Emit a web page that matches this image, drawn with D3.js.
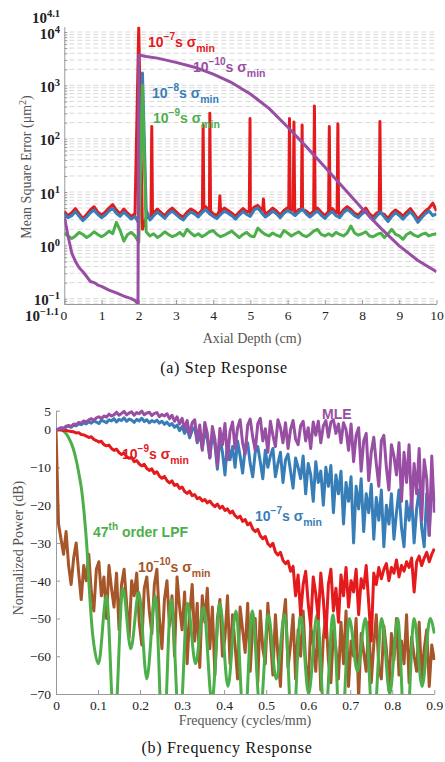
<!DOCTYPE html>
<html>
<head>
<meta charset="utf-8">
<script src="https://cdn.jsdelivr.net/npm/d3@7"></script>
<style>
  body { margin: 0; background: #fff; }
  svg { display: block; }
  .tick-label { font-family: "Liberation Serif", "Times New Roman", serif; font-size: 13.5px; fill: #222; }
  .decade-label { font-family: "Liberation Serif", "Times New Roman", serif; font-size: 15px; font-weight: bold; fill: #222; }
  .axis-title { font-family: "Liberation Serif", serif; font-size: 14px; fill: #555; }
  .caption { font-family: "Liberation Serif", serif; font-size: 16px; fill: #111; letter-spacing: 0.7px; }
  .series-label { font-family: "Liberation Sans", Arial, sans-serif; font-weight: bold; font-size: 14px; }
</style>
</head>
<body>
<div id="chart"></div>
<script>
// ---------- (a) Step response data : axial depth 0..10 cm, step 0.1 ----------
const depthGrid = d3.range(0, 101).map(i => i / 10);

// 10^-7 s sigma_min (red) - noise floor, spikes listed separately
const redMse = [
  4.3, 3.6, 4.1, 4.9, 3.9, 3.2, 3.8, 4.6, 5.3, 4.2,
  3.7, 4.2, 5.0, 5.8, 4.6, 3.9, 4.8, 4.0, 3.5, 3.9,
  12000, 2.0, 3.3, 3.4, 4.0, 4.8, 4.1, 3.6, 4.4, 5.0,
  4.3, 3.7, 3.4, 4.2, 4.8, 4.4, 3.8, 4.6, 5.3, 4.4,
  3.9, 3.6, 4.3, 5.0, 4.5, 4.0, 3.5, 4.2, 4.9, 4.3,
  3.9, 5.2, 5.6, 4.6, 3.8, 4.3, 5.0, 4.4, 3.7, 4.5,
  5.1, 4.6, 4.0, 4.7, 5.4, 4.4, 3.8, 4.4, 5.0, 4.2,
  3.6, 4.3, 4.9, 4.1, 3.7, 4.6, 5.3, 4.7, 4.0, 3.7,
  4.4, 5.0, 3.9, 3.4, 4.1, 4.8, 3.8, 3.2, 4.0, 4.6,
  4.1, 3.5, 4.2, 4.9, 3.9, 3.1, 3.7, 4.4, 5.0, 6.2,
  4.4
];
// [depth, floor, peak]
const redSpikes = [
  [2.35, 3.4, 170], [3.73, 4.4, 180], [3.91, 4.4, 300], [4.18, 4.3, 8.5],
  [4.99, 4.3, 240], [5.35, 4.6, 7.4], [6.05, 4.8, 240], [6.17, 4.6, 205],
  [6.39, 4.6, 180], [6.72, 4.4, 410], [7.12, 4.3, 170], [7.35, 4.1, 190],
  [8.48, 4.0, 210]
];

// 10^-8 s sigma_min (blue)
const blueMse = [
  3.9, 3.3, 3.6, 4.3, 3.5, 2.9, 3.4, 4.1, 4.6, 3.8,
  3.3, 3.7, 4.4, 4.9, 4.0, 3.5, 4.2, 3.6, 3.1, 3.5,
  2.6, 1700, 4.6, 3.0, 3.6, 4.2, 3.7, 3.2, 3.9, 4.4,
  3.8, 3.3, 3.0, 3.7, 4.2, 3.9, 3.4, 4.1, 4.7, 3.9,
  3.5, 3.2, 3.8, 4.4, 4.0, 3.6, 3.1, 3.7, 4.3, 3.8,
  3.5, 4.6, 5.0, 4.1, 3.4, 3.8, 4.4, 3.9, 3.3, 4.0,
  4.5, 4.1, 3.6, 4.2, 4.8, 3.9, 3.4, 3.9, 4.4, 3.7,
  3.2, 3.8, 4.3, 3.6, 3.3, 4.1, 4.7, 4.2, 3.6, 3.3,
  3.9, 4.4, 3.5, 3.0, 3.6, 4.2, 3.4, 2.8, 3.5, 4.1,
  3.6, 3.1, 3.7, 4.3, 3.5, 2.7, 3.3, 3.9, 4.4, 3.6,
  3.9
];

// 10^-9 s sigma_min (green)
const greenMse = [
  1.7, 1.5, 1.35, 1.5, 1.75, 1.6, 1.4, 1.55, 1.8, 1.6,
  1.45, 1.6, 1.85, 1.65, 2.7, 1.9, 1.2, 1.6, 1.75, 1.5,
  1.15, 1000, 1.8, 1.5, 1.65, 1.4, 1.55, 1.8, 1.6, 1.45,
  1.55, 1.75, 1.5, 2.0, 1.7, 1.5, 1.65, 1.45, 1.6, 1.8,
  1.9, 1.6, 1.45, 1.55, 1.7, 1.85, 1.6, 1.4, 1.6, 1.75,
  1.5, 1.45, 2.1, 1.8, 1.6, 1.5, 1.7, 1.55, 1.45, 1.9,
  1.7, 1.5, 1.65, 1.8, 1.55, 1.45, 1.6, 1.85, 2.0, 1.6,
  1.5, 1.65, 1.5, 1.75, 1.6, 1.5, 1.7, 2.3, 1.7, 1.55,
  1.65, 1.8, 1.5, 1.45, 1.6, 1.7, 1.4, 1.65, 2.0, 1.6,
  1.5, 1.3, 1.6, 1.75, 1.55, 1.45, 1.6, 1.7, 1.5, 1.6,
  1.65
];

// 10^-10 s sigma_min (purple)
const purpleDepth = [0, 0.1, 0.2, 0.3, 0.4, 0.5, 0.6, 0.7, 0.8, 0.9, 1.0, 1.2, 1.4, 1.6, 1.8, 1.9, 1.98,
  2.0, 2.2, 2.5, 3.0, 3.5, 4.0, 4.5, 5.0, 5.5, 6.0, 6.5, 7.0, 7.5, 8.0, 8.5, 9.0, 9.5, 10.0];
const purpleMse = [3.5, 1.5, 0.72, 0.5, 0.38, 0.32, 0.26, 0.21, 0.2, 0.18, 0.17, 0.145, 0.128, 0.112, 0.1, 0.092, 0.08,
  3700, 3470, 3240, 2700, 2190, 1620, 1120, 690, 370, 166, 71, 29.5, 12, 4.9, 2.1, 0.98, 0.52, 0.32];

// ---------- (b) Frequency response data : 0..0.9 cycles/mm, step 0.006 ----------
const freqGrid = d3.range(0, 151).map(i => i * 0.006);

const mleDb = [
  0, 0.2, 0.5, 0.4, 0.9, 1.1, 0.8, 1.5, 1.3, 1.9,
  1.7, 2.3, 2.0, 2.6, 2.9, 2.4, 3.1, 3.4, 2.9, 3.6,
  3.3, 4.1, 3.6, 3.9, 4.6, 3.8, 4.3, 4.8, 3.9, 4.4,
  4.7, 3.8, 4.5, 4.2, 4.9, 3.9, 4.4, 4.6, 3.7, 4.3,
  4.5, 3.4, 4.0, 3.6, 4.2, 2.9, 3.8, 2.2, 3.4, 1.5,
  3.0, 0.2, 2.4, -1.5, 1.8, 2.6, -3.0, 1.2, -5.5, 1.9,
  -1.0, -7.5, 0.8, -2.5, -9.5, 0.3, -4.0, 1.6, -8.0, -0.5,
  2.0, -5.0, 0.5, 2.6, -3.5, -6.5, 1.2, 2.8, -2.0, -5.5,
  1.5, 3.0, -3.0, 0.2, -6.0, 2.2, -1.5, -4.5, 2.6, 0.5,
  -3.5, 1.8, -5.0, 0.0, 2.4, -2.5, -4.0, 1.0, 2.2, -3.0,
  0.5, -5.0, 2.0, -1.5, 2.2, -3.5, 1.0, 2.4, -2.0, 2.0,
  2.6, -1.0, 1.5, -3.5, 1.8, 0.0, -5.5, 1.5, -8.5, -1.5,
  0.5, -11.0, -3.0, -1.0, -13.5, -6.0, -2.0, -9.0, -15.0, -3.0,
  -1.5, -10.0, -16.0, -4.0, -7.0, -12.0, -3.5, -19.0, -6.0, -14.0,
  -4.0, -21.0, -9.0, -17.0, -5.0, -24.0, -8.0, -13.0, -28.0, -7.0,
  -22.0
];

const sigma7Db = [
  0, 0.1, 0.4, 0.2, 0.7, 0.9, 0.6, 1.2, 1.0, 1.5,
  1.3, 1.8, 1.5, 2.1, 1.7, 2.3, 2.0, 1.6, 2.5, 2.2,
  1.8, 2.6, 2.3, 2.9, 2.0, 2.7, 2.4, 3.1, 2.2, 2.8,
  2.5, 1.9, 2.7, 2.3, 3.0, 2.1, 2.6, 1.8, 2.4, 2.0,
  2.5, 1.7, 2.2, 1.4, 2.0, 1.1, 1.6, 0.6, 1.2, -0.3,
  0.8, -1.0, 0.4, -2.2, -0.2, 0.6, -3.5, -1.0, -5.0, -0.6,
  -2.5, -7.5, -1.2, -4.0, -10.5, -2.0, -6.0, -12.0, -3.0, -8.0,
  -4.5, -10.0, -3.0, -7.0, -11.5, -5.0, -3.5, -9.0, -12.5, -6.0,
  -4.5, -8.5, -13.0, -5.5, -10.0, -7.0, -5.0, -12.5, -9.0, -6.0,
  -14.0, -8.0, -6.5, -11.0, -15.5, -7.5, -10.0, -13.0, -7.0, -17.0,
  -9.0, -12.0, -19.0, -8.5, -14.0, -11.0, -20.0, -10.0, -15.0, -9.5,
  -22.0, -12.0, -17.0, -11.0, -25.0, -14.0, -19.0, -12.5, -30.0, -15.0,
  -21.0, -13.0, -27.0, -17.0, -22.0, -14.5, -29.0, -18.0, -24.0, -16.0,
  -31.0, -20.0, -25.0, -17.0, -29.0, -22.0, -16.0, -26.0, -31.0, -19.0,
  -24.0, -18.0, -30.0, -21.0, -16.0, -26.0, -31.0, -17.0, -28.0, -14.0,
  -19.0
];

const sigma9Db = [
  0, -0.1, 0.0, -0.3, -0.2, -0.4, -0.5, -0.6, -0.9, -0.8,
  -1.3, -1.4, -1.7, -2.1, -1.9, -2.6, -2.9, -3.3, -3.1, -4.0,
  -4.3, -4.1, -5.0, -5.5, -5.2, -6.1, -6.6, -6.2, -7.2, -7.6,
  -7.4, -8.5, -8.2, -9.1, -9.6, -9.2, -10.3, -10.8, -10.4, -11.6,
  -11.2, -12.3, -12.9, -12.4, -13.5, -14.1, -13.6, -14.8, -14.5, -15.6,
  -15.2, -16.4, -16.9, -16.3, -17.5, -17.2, -18.3, -18.0, -18.9, -18.5,
  -19.4, -18.9, -19.8, -20.4, -19.7, -20.8, -20.3, -21.4, -21.0, -22.1,
  -21.6, -22.8, -23.4, -22.9, -24.3, -23.8, -25.2, -24.7, -26.3, -27.0,
  -26.4, -28.1, -28.9, -28.3, -30.2, -30.9, -30.1, -32.4, -33.2, -32.5,
  -34.6, -35.5, -34.8, -37.5, -36.2, -44.0, -38.5, -49.0, -41.0, -37.5,
  -46.0, -52.0, -39.0, -43.5, -50.0, -38.0, -45.0, -55.0, -41.0, -37.0,
  -48.0, -42.0, -51.0, -38.5, -44.0, -36.5, -47.0, -40.0, -43.0, -37.0,
  -49.0, -39.5, -42.0, -36.0, -46.0, -56.0, -38.0, -41.0, -36.5, -39.5,
  -37.0, -35.5, -40.0, -36.5, -38.0, -34.5, -39.0, -36.0, -37.5, -35.0,
  -36.5, -34.0, -43.0, -35.0, -33.5, -36.0, -34.0, -32.5, -35.0, -33.0,
  -31.5
];

const sigma10Db = [
  0, -25, -29, -33, -27, -36, -41, -34, -30, -38,
  -45, -36, -40, -33, -43, -48, -37, -35, -44, -39,
  -50, -36, -42, -47, -38, -53, -41, -37, -46, -55,
  -40, -44, -38, -51, -57, -42, -39, -48, -54, -41,
  -37, -50, -58, -45, -40, -52, -44, -60, -39, -47,
  -53, -43, -62, -49, -41, -56, -46, -63, -44, -51,
  -42, -58, -47, -65, -50, -45, -60, -55, -44, -62,
  -49, -57, -66, -47, -53, -59, -46, -64, -52, -50,
  -67, -48, -58, -62, -46, -55, -65, -49, -60, -68,
  -51, -45, -63, -57, -49, -66, -53, -60, -48, -62,
  -68, -52, -57, -64, -50, -69, -55, -49, -61, -67,
  -53, -58, -66, -51, -62, -48, -68, -56, -60, -50,
  -71, -54, -59, -64, -51, -67, -57, -49, -63, -66,
  -52, -58, -69, -54, -61, -50, -65, -56, -62, -49,
  -67, -55, -60, -64, -51, -66, -58, -53, -68, -57,
  -61
];

// 47th order LPF (green) - main lobe then sidelobe peaks / nulls
const lpfFreq = [0, 0.015, 0.025, 0.033, 0.041, 0.049, 0.055, 0.061, 0.066, 0.070, 0.074, 0.078, 0.082, 0.087, 0.093, 0.101,
  0.120, 0.139, 0.159, 0.178, 0.197, 0.216, 0.236, 0.255, 0.274, 0.294, 0.313, 0.332, 0.351, 0.371, 0.390, 0.409,
  0.428, 0.448, 0.467, 0.486, 0.505, 0.524, 0.544, 0.563, 0.582, 0.601, 0.621, 0.640, 0.659, 0.678, 0.698, 0.717,
  0.736, 0.755, 0.775, 0.794, 0.813, 0.832, 0.852, 0.871, 0.890, 0.900];
const lpfDb = [0, -0.2, -1.2, -2.8, -5, -8.5, -12, -16, -21, -26, -32, -40, -47, -54, -59, -62,
  -44, -80, -42, -58, -43, -66, -44, -85, -45, -80, -46, -62, -47, -72, -46, -68,
  -48, -80, -48, -75, -49, -66, -49, -82, -49, -70, -49, -78, -49, -85, -50, -64,
  -50, -80, -50, -70, -50, -86, -50, -68, -50, -54];

const colors = { red: "#e41a1c", blue: "#377eb8", green: "#4daf4a", purple: "#984ea3", brown: "#a65628" };

/************************************
 * Layout + scales
 ************************************/
const W = 445, H = 762;
const svg = d3.select("#chart").append("svg").attr("width", W).attr("height", H);

const xTop = d3.scaleLinear().domain([0, 10]).range([64.3, 436.5]);
const yTop = d3.scaleLog().domain([Math.pow(10, -1.1), Math.pow(10, 4.1)]).range([304, 26.7]);

const xBot = d3.scaleLinear().domain([0, 0.9]).range([56, 434.3]);
const yBot = d3.scaleLinear().domain([-70, 5]).range([694, 410.7]);

const defs = svg.append("defs");
defs.append("clipPath").attr("id", "clipTop").append("rect")
  .attr("x", xTop(0)).attr("y", yTop.range()[1]).attr("width", xTop(10) - xTop(0)).attr("height", yTop.range()[0] - yTop.range()[1]);
defs.append("clipPath").attr("id", "clipBot").append("rect")
  .attr("x", xBot(0)).attr("y", yBot(5) - 2).attr("width", xBot(0.9) - xBot(0) + 1).attr("height", yBot(-70) - yBot(5) + 2);

// superscript / subscript text helper
const richText = (g, x, y, cls, parts, fill) => {
  const t = g.append("text").attr("x", x).attr("y", y).attr("class", cls);
  if (fill) t.attr("fill", fill);
  let shift = 0;
  parts.forEach(p => {
    const target = p.sup ? -p.sup : (p.sub ? p.sub : 0);
    const s = t.append("tspan").attr("dy", target - shift).text(p.t);
    if (p.size) s.attr("font-size", p.size);
    shift = target;
  });
  return t;
};

const sigmaLabel = (g, x, y, exp, color) => richText(g, x, y, "series-label", [
  { t: "10" }, { t: "\u2212" + exp, sup: 7, size: 10 }, { t: "s \u03c3" }, { t: "min", sub: 5, size: 10.5 }
], color);

/************************************
 * (a) Step response
 ************************************/
const gTop = svg.append("g");

const logGrid = [];
for (let e = -2; e <= 4; e++)
  for (let k = 1; k <= 9; k++) {
    const v = k * Math.pow(10, e);
    if (v >= yTop.domain()[0] && v <= yTop.domain()[1]) logGrid.push(v);
  }

gTop.append("g").selectAll("line").data(logGrid).join("line")
  .attr("x1", xTop(0) + 5).attr("x2", xTop(10))
  .attr("y1", d => yTop(d)).attr("y2", d => yTop(d))
  .attr("stroke", "#d9d9d9").attr("stroke-width", 1).attr("stroke-dasharray", "5,3");

gTop.append("g")
  .attr("transform", "translate(" + xTop(0) + ",0)")
  .call(d3.axisLeft(yTop).tickValues(logGrid).tickSize(-3).tickSizeOuter(0).tickFormat(() => ""))
  .call(g => g.selectAll("path,line").attr("stroke", "#999"));

gTop.append("g")
  .attr("transform", "translate(0," + yTop.range()[0] + ")")
  .call(d3.axisBottom(xTop).tickValues(d3.range(0, 11)).tickSize(-4).tickSizeOuter(0).tickPadding(6))
  .call(g => g.selectAll("path,line").attr("stroke", "#999"))
  .call(g => g.selectAll("text").attr("class", "tick-label").attr("font-size", null).attr("font-family", null));
gTop.selectAll(".tick-label").filter(d => d === 0).attr("dx", -1);

// decade labels
const decades = [4, 3, 2, 1, 0, -1];
decades.forEach(e => {
  richText(gTop, 60, yTop(Math.pow(10, e)) + 6.5, "decade-label",
    [{ t: "10" }, { t: e < 0 ? "\u2212" + (-e) : String(e), sup: 6, size: 10.5 }]).attr("text-anchor", "end");
});
richText(gTop, 60, yTop.range()[1] - 4, "decade-label", [{ t: "10" }, { t: "4.1", sup: 6, size: 10.5 }]).attr("text-anchor", "end");
richText(gTop, 59, yTop.range()[0] + 17, "decade-label", [{ t: "10" }, { t: "\u22121.1", sup: 6, size: 10.5 }]).attr("text-anchor", "end");

const lineTop = d3.line().x(d => xTop(d[0])).y(d => yTop(d[1]));

const redPoints = depthGrid.map((x, i) => [x, redMse[i]]);
redSpikes.forEach(([x, base, peak]) => redPoints.push([x - 0.02, base], [x, peak], [x + 0.02, base]));
redPoints.sort((a, b) => a[0] - b[0]);

const topSeries = [
  [redPoints, colors.red],
  [depthGrid.map((x, i) => [x, blueMse[i]]), colors.blue],
  [depthGrid.map((x, i) => [x, greenMse[i]]), colors.green],
  [purpleDepth.map((x, i) => [x, purpleMse[i]]), colors.purple]
];
const gTopLines = gTop.append("g").attr("clip-path", "url(#clipTop)");
topSeries.forEach(([pts, c]) => {
  gTopLines.append("path").datum(pts).attr("d", lineTop)
    .attr("fill", "none").attr("stroke", c).attr("stroke-width", 3).attr("stroke-linejoin", "round");
});

sigmaLabel(gTop, 148, 47, "7", colors.red);
sigmaLabel(gTop, 193, 72, "10", colors.purple);
sigmaLabel(gTop, 152, 98, "8", colors.blue);
sigmaLabel(gTop, 153, 123, "9", colors.green);

richText(gTop, 0, 0, "axis-title", [{ t: "Mean Square Error (\u03bcm" }, { t: "2", sup: 5, size: 10 }, { t: ")", sup: 0 }])
  .attr("text-anchor", "middle").attr("transform", "translate(31,167) rotate(-90)");
gTop.append("text").attr("class", "axis-title").attr("x", 252).attr("y", 343).attr("text-anchor", "middle").text("Axial Depth (cm)");
gTop.append("text").attr("class", "caption").attr("x", 224).attr("y", 373).attr("text-anchor", "middle").text("(a) Step Response");

/************************************
 * (b) Frequency response
 ************************************/
const gBot = svg.append("g");

gBot.append("g")
  .attr("transform", "translate(" + xBot(0) + ",0)")
  .call(d3.axisLeft(yBot).tickValues([5, 0, -10, -20, -30, -40, -50, -60, -70]).tickSize(-4).tickSizeOuter(0).tickPadding(5)
    .tickFormat(d => d < 0 ? "\u2212" + Math.abs(d) : d))
  .call(g => g.selectAll("path,line").attr("stroke", "#999"))
  .call(g => g.selectAll("text").attr("class", "tick-label").attr("font-size", null).attr("font-family", null));

gBot.append("g")
  .attr("transform", "translate(0," + yBot(-70) + ")")
  .call(d3.axisBottom(xBot).tickValues(d3.range(0, 10).map(i => i / 10)).tickSize(-4).tickSizeOuter(0).tickPadding(6)
    .tickFormat(d => d === 0 ? "0" : d3.format(".1f")(d)))
  .call(g => g.selectAll("path,line").attr("stroke", "#999"))
  .call(g => g.selectAll("text").attr("class", "tick-label").attr("font-size", null).attr("font-family", null));

const lineBot = d3.line().x(d => xBot(d[0])).y(d => yBot(d[1]));
const curveBot = d3.line().x(d => xBot(d[0])).y(d => yBot(d[1])).curve(d3.curveMonotoneX);
const gBotLines = gBot.append("g").attr("clip-path", "url(#clipBot)");
const botSeries = [
  [freqGrid.map((f, i) => [f, sigma10Db[i]]), colors.brown, lineBot],
  [lpfFreq.map((f, i) => [f, lpfDb[i]]), colors.green, curveBot],
  [freqGrid.map((f, i) => [f, sigma9Db[i]]), colors.red, lineBot],
  [freqGrid.map((f, i) => [f, sigma7Db[i]]), colors.blue, lineBot],
  [freqGrid.map((f, i) => [f, mleDb[i]]), colors.purple, lineBot]
];
botSeries.forEach(([pts, c, gen]) => {
  gBotLines.append("path").datum(pts).attr("d", gen)
    .attr("fill", "none").attr("stroke", c).attr("stroke-width", 3).attr("stroke-linejoin", "round");
});

richText(gBot, 322, 419, "series-label", [{ t: "MLE" }], colors.purple);
sigmaLabel(gBot, 122, 459, "9", colors.red);
sigmaLabel(gBot, 255, 521, "7", colors.blue);
richText(gBot, 93, 537, "series-label", [{ t: "47" }, { t: "th", sup: 7, size: 10 }, { t: " order LPF", sup: 0 }], colors.green);
sigmaLabel(gBot, 138, 572, "10", colors.brown);

gBot.append("text").attr("class", "axis-title").attr("text-anchor", "middle")
  .attr("transform", "translate(23,548) rotate(-90)").text("Normalized Power (dB)");
gBot.append("text").attr("class", "axis-title").attr("x", 245).attr("y", 725).attr("text-anchor", "middle").text("Frequency (cycles/mm)");
gBot.append("text").attr("class", "caption").attr("x", 227).attr("y", 753).attr("text-anchor", "middle").text("(b) Frequency Response");
</script>
</body>
</html>
